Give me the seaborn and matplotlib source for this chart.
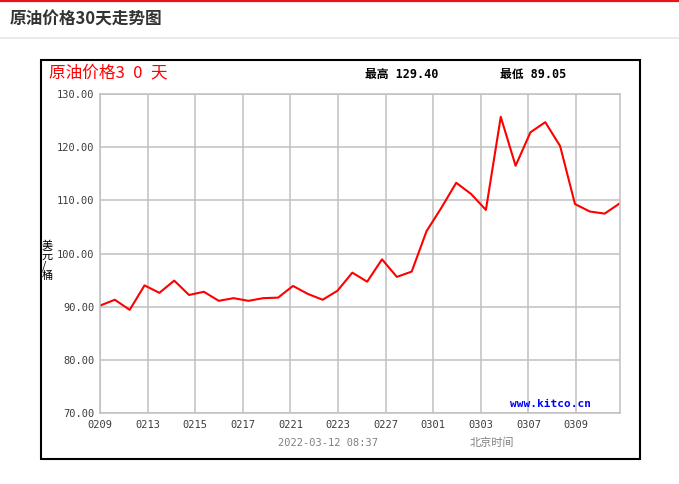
import numpy as np
import matplotlib
matplotlib.use("Agg")
import matplotlib.pyplot as plt
import seaborn as sns
import pandas as pd
from matplotlib.patches import Rectangle
from matplotlib.lines import Line2D

# crude oil price, last 30 days (one point per record)
prices = [90.2, 91.3, 89.4, 94.0, 92.6, 94.9, 92.2, 92.8, 91.1, 91.6,
          91.1, 91.6, 91.7, 93.9, 92.4, 91.3, 93.0, 96.4, 94.7, 98.9,
          95.6, 96.6, 104.2, 108.6, 113.3, 111.2, 108.2, 125.7, 116.5, 122.8,
          124.7, 120.2, 109.3, 107.9, 107.5, 109.4]
date_labels = ["0209", "0213", "0215", "0217", "0221", "0223",
               "0227", "0301", "0303", "0307", "0309"]
y_ticks = [70, 80, 90, 100, 110, 120, 130]
high_price = "129.40"
low_price = "89.05"
updated = "2022-03-12 08:37"

df = pd.DataFrame({"idx": np.arange(len(prices)), "price": prices})

sns.set_style("white")
plt.rcParams['font.family'] = ['Noto Sans CJK SC', 'DejaVu Sans']

W, H = 679, 484
fig = plt.figure(figsize=(W / 100, H / 100), dpi=100)

def fx(px):
    return px / W

def fy(py):
    return 1 - py / H

# page decoration
fig.add_artist(Line2D([0, 1], [fy(0.8), fy(0.8)], color="#e8141c", lw=1.6))
fig.add_artist(Line2D([0, 1], [fy(38), fy(38)], color="#e6e6e6", lw=1.2))
fig.text(fx(10), fy(20), "原油价格30天走势图", fontsize=12, fontweight="bold",
         color="#333333", va="center", ha="left")

# chart frame
fig.add_artist(Rectangle((fx(40.5), fy(458.5)), fx(599), 399 / H, fill=False,
                         edgecolor="black", lw=1.5, transform=fig.transFigure))

ax = fig.add_axes([fx(100), fy(413), fx(519.5), 319 / H])
sns.lineplot(data=df, x="idx", y="price", ax=ax, color="#ff0000", linewidth=1.5)

n = len(prices) - 1
step = 47.6 / (519.5 / n)
xt = [i * step for i in range(len(date_labels))]
ax.set_xlim(0, n)
ax.set_ylim(70, 130)
ax.set_xticks(xt)
ax.set_xticklabels(date_labels)
ax.set_yticks(y_ticks)
ax.set_yticklabels([f"{v:.2f}" for v in y_ticks])
ax.grid(True, color="#c0c0c0", lw=1.1)
for s in ax.spines.values():
    s.set_color("#c0c0c0")
    s.set_linewidth(1.1)
ax.tick_params(length=0, labelsize=7.5, labelcolor="#3c3c3c")
ax.tick_params(axis="y", pad=4)
ax.tick_params(axis="x", pad=5)
for lab in ax.get_xticklabels() + ax.get_yticklabels():
    lab.set_family("DejaVu Sans Mono")
ax.set_xlabel("")
ax.set_ylabel("")

# texts inside frame
fig.text(fx(49), fy(73), "原油价格3\u20020\u2002天", fontsize=12, color="#ff0000",
         va="center", ha="left")
fig.text(fx(365), fy(74), "最高 " + high_price, fontsize=8.5, fontweight="bold",
         color="black", va="center", ha="left",
         family=["DejaVu Sans Mono", "Noto Sans CJK SC"])
fig.text(fx(500), fy(74), "最低 " + low_price, fontsize=8.5, fontweight="bold",
         color="black", va="center", ha="left",
         family=["DejaVu Sans Mono", "Noto Sans CJK SC"])
fig.text(fx(42), fy(261), "美\n元\n/\n桶", fontsize=8, color="black",
         va="center", ha="left", linespacing=1.0)
fig.text(fx(510), fy(404), "www.kitco.cn", fontsize=8, fontweight="bold",
         color="#0000ff", va="center", ha="left", family="DejaVu Sans Mono")
fig.text(fx(278), fy(443), updated, fontsize=7.5, color="#808080",
         va="center", ha="left", family="DejaVu Sans Mono")
fig.text(fx(470), fy(443), "北京时间", fontsize=8, color="#808080",
         va="center", ha="left")

fig.savefig("out.png", dpi=100)
